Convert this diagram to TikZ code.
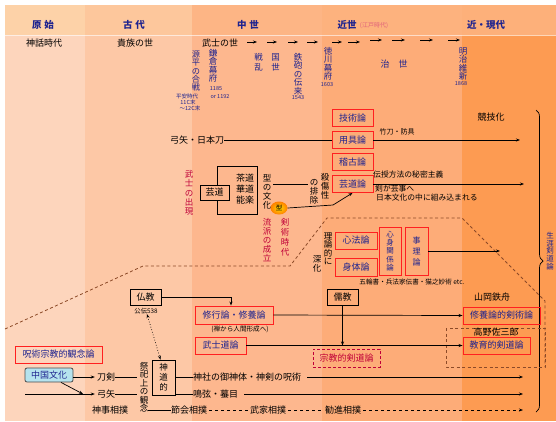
\documentclass[tikz,border=0pt]{standalone}
\usepackage{fontspec}
\newfontfamily\cjk{Noto Sans CJK JP}
\usetikzlibrary{arrows.meta,decorations.pathreplacing,shapes.geometric}
\definecolor{navyc}{HTML}{1E238F}
\definecolor{redc}{HTML}{FF2020}
\definecolor{crim}{HTML}{C00038}
\definecolor{dashc}{HTML}{8C4A28}
\definecolor{pinkc}{HTML}{E0607A}
\definecolor{cyanc}{HTML}{B5E3EE}
\definecolor{cab}{HTML}{FDD5BC}\definecolor{cah}{HTML}{FDD2A8}
\definecolor{cbb}{HTML}{FDC8A6}\definecolor{cbh}{HTML}{FDC79C}
\definecolor{ccb}{HTML}{FDB78E}\definecolor{cch}{HTML}{FDB585}
\definecolor{cdb}{HTML}{FDAC78}\definecolor{cdh}{HTML}{FDB27E}
\definecolor{ceb}{HTML}{FD9B52}\definecolor{ceh}{HTML}{FDB07A}
\begin{document}
\begin{tikzpicture}[x=1pt,y=-1pt,
  every node/.style={inner sep=0pt, font=\cjk\fontsize{9}{9}\selectfont},
  lbl/.style={text=black},
  nv/.style={text=navyc},
  hdr/.style={text=navyc, font=\cjk\bfseries\fontsize{9.5}{9.5}\selectfont},
  vt/.style={align=center, font=\cjk\fontsize{8.5}{8.5}\selectfont},
  sm/.style={font=\cjk\fontsize{5.5}{5.5}\selectfont},
  rbox/.style={draw=redc, line width=0.9pt, text=navyc},
  bbox/.style={draw=black, line width=0.8pt, text=black},
  arr/.style={-{Stealth[length=4pt,width=3pt]}, line width=0.7pt},
  ln/.style={line width=0.7pt},
  dsh/.style={draw=dashc, dash pattern=on 3pt off 2.5pt, line width=0.8pt},
]
\useasboundingbox (0,0) rectangle (556,421);
\fill[white] (0,0) rectangle (556,421);
% columns
\fill[cab] (5,5) rectangle (85,421);
\fill[cbb] (85,5) rectangle (192,421);
\fill[ccb] (192,5) rectangle (322,421);
\fill[cdb] (322,5) rectangle (462,421);
\fill[ceb] (462,5) rectangle (556,421);
\fill[cah] (5,5) rectangle (85,35);
\fill[cbh] (85,5) rectangle (192,35);
\fill[cch] (192,5) rectangle (322,35);
\fill[cdh] (322,5) rectangle (462,35);
\fill[ceh] (462,5) rectangle (556,35);
\draw[white, opacity=0.6, line width=1pt] (5,35.5) -- (556,35.5);

% header
\node[hdr] (h1) at (43,25) {原\hspace{3pt}始};
\node[hdr] (h2) at (134,25) {古\hspace{3pt}代};
\node[hdr] (h3) at (248,25) {中\hspace{3pt}世};
\node[hdr] (h4) at (347,25) {近世};
\node[text=pinkc, font=\cjk\fontsize{6}{6}\selectfont] (h4s) at (374,26) {(江戸時代)};
\node[hdr] (h5) at (486,25) {近・現代};

% row 2
\node[lbl] (r1) at (44,43) {神話時代};
\node[lbl] (r2) at (135,43) {貴族の世};
\node[lbl] (r3) at (220,43) {武士の世};
\foreach \a/\b/\y in {247/257/42, 267/277/42, 288/298/42, 307/318/42, 332/342/42, 348/360/42, 370/382/40, 392/405/40, 420/433/40, 448/460/40}
  \draw[arr] (\a,\y) -- (\b,\y);

% era events
\node[vt,nv, font=\cjk\fontsize{8.2}{8.2}\selectfont] (genpei) at (196,71) {源\\平\\の\\合\\戦};
\node[sm,nv] (heian) at (187,96) {平安時代};
\node[sm,nv] (c11) at (188,102) {11C末};
\node[sm,nv] (c12) at (190,108) {～12C末};
\node[vt,nv] (kama) at (213,66) {鎌\\倉\\幕\\府};
\node[sm,nv] (y1185) at (216,89) {1185};
\node[sm,nv] (y1192) at (220,97) {or 1192};
\node[nv, align=center, font=\cjk\fontsize{8.5}{10}\selectfont] (sengoku) at (267,62) {戦　国\\乱　世};
\node[vt,nv] (teppo) at (298,74) {鉄\\砲\\の\\伝\\来};
\node[sm,nv] (y1543) at (298,98) {1543};
\node[vt,nv] (toku) at (328,64) {徳\\川\\幕\\府};
\node[sm,nv] (y1603) at (327,85) {1603};
\node[nv] (chisei) at (394,64) {治　世};
\node[vt,nv] (meiji) at (463,64) {明\\治\\維\\新};
\node[sm,nv] (y1868) at (461,84) {1868};

% upper red boxes
\node[rbox, minimum width=41pt, minimum height=17pt] (gijutsu) at (352.5,118) {技術論};
\node[rbox, minimum width=41pt, minimum height=17pt] (yougu) at (352.5,140) {用具論};
\node[rbox, minimum width=41pt, minimum height=17pt] (keiko) at (352.5,162) {稽古論};
\node[rbox, minimum width=41pt, minimum height=17pt] (geidouron) at (352.5,184) {芸道論};

\node[lbl] (yumito) at (197,140) {弓矢・日本刀};
\draw[ln] (yumito.east) -- (yougu.west);
\coordinate (e1) at (520,140);
\draw[arr] (yougu.east) -- (e1);
\node[lbl, font=\cjk\fontsize{7}{7}\selectfont] (shinai) at (397,132) {竹刀・防具};
\node[lbl] (kyogi) at (491,117) {競技化};

\coordinate (e2) at (524,184);
\draw[arr] (geidouron.east) -- (e2);
\node[lbl, anchor=west, font=\cjk\fontsize{7.8}{7.8}\selectfont] (denju) at (373,175) {伝授方法の秘密主義};
\node[lbl, anchor=west, font=\cjk\fontsize{7.8}{7.8}\selectfont] (geigoto) at (375,189) {剣が芸事へ};
\node[lbl, anchor=west, font=\cjk\fontsize{7.8}{7.8}\selectfont] (nihon) at (376,198) {日本文化の中に組み込まれる};

% brace
\draw[decorate, decoration={brace, amplitude=7pt}, line width=0.7pt] (536,110) -- (536,412);
\node[vt, nv, font=\cjk\fontsize{7.5}{7.8}\selectfont] (shogai) at (550,251) {生\\涯\\剣\\道\\論};

% geido block
\node[bbox, minimum width=29pt, minimum height=15pt] (geido) at (214.5,192.5) {芸道};
\draw[ln] (geido.north -| 217,0) -- (217,166) -- (257,166) -- (257,214) -- (217,214) -- (geido.south -| 217,0);
\node[lbl] (sado) at (245,178) {茶道};
\node[lbl] (kado) at (245,189) {華道};
\node[lbl] (nogaku) at (245,200) {能楽};

\node[vt,lbl, font=\cjk\fontsize{8.5}{9}\selectfont] (katabunka) at (267,192) {型\\の\\文\\化};
\node[vt,lbl, font=\cjk\fontsize{8.5}{9}\selectfont] (sessho) at (325,186) {殺\\傷\\性};
\node[vt,lbl, font=\cjk\fontsize{8.5}{9}\selectfont] (nohaijo) at (314,192) {の\\排\\除};
\coordinate (k1) at (273,184);
\coordinate (k2) at (308,184);
\draw[ln] (k1) -- (k2);
\node[ellipse, minimum width=17pt, minimum height=13pt, inner color=yellow!70!orange, outer color=orange, font=\cjk\fontsize{6.5}{6.5}\selectfont] (kata) at (279,208) {型};
\coordinate (bend) at (333,205);
\draw[arr] (kata.east) -- (bend) -- (geidouron.south);

\node[vt, text=crim, font=\cjk\fontsize{8.5}{9.4}\selectfont] (bushi) at (189,193) {武\\士\\の\\出\\現};
\node[vt, text=crim, font=\cjk\fontsize{8.5}{9.2}\selectfont] (ryuha) at (267,240) {流\\派\\の\\成\\立};
\node[vt, text=crim, font=\cjk\fontsize{8.5}{10}\selectfont] (kenjutsu) at (285,237) {剣\\術\\時\\代};

% dashed region
\draw[dsh] (5,329) -- (143,266) -- (290,266) -- (327,218) -- (462,218) -- (545,301) -- (545,367);
\draw[dsh] (446,328) rectangle (545,367);

\node[vt,lbl, font=\cjk\fontsize{8.5}{8.5}\selectfont] (riron) at (328,249) {理\\論\\的\\に};
\node[vt,lbl, font=\cjk\fontsize{8.5}{8.5}\selectfont] (shinka) at (317,264) {深\\化};

\node[rbox, minimum width=42pt, minimum height=17pt] (shinpo) at (356,240.5) {心法論};
\node[rbox, minimum width=42pt, minimum height=18pt] (shintai) at (356,267) {身体論};
\node[rbox, minimum width=22pt, minimum height=48pt, align=center, font=\cjk\fontsize{7.5}{8.3}\selectfont] (shinshin) at (390,251) {心\\身\\関\\係\\論};
\node[rbox, minimum width=23pt, minimum height=48pt, align=center, font=\cjk\fontsize{8}{11}\selectfont] (jiri) at (416.5,251) {事\\理\\論};
\coordinate (e3) at (500,251);
\draw[arr] (jiri.east) -- (e3);
\node[lbl, font=\cjk\fontsize{6.6}{6.6}\selectfont] (gorin) at (412,282) {五輪書・兵法家伝書・猫之妙術 etc.};

% lower part
\node[bbox, minimum width=31pt, minimum height=16pt] (bukkyo) at (145.5,297) {仏教};
\node[lbl, font=\cjk\fontsize{6.3}{6.3}\selectfont] (kouden) at (146,311) {公伝538};
\node[rbox, minimum width=78pt, minimum height=18pt] (shugyo) at (234,315) {修行論・修養論};
\node[lbl, font=\cjk\fontsize{6.6}{6.6}\selectfont] (zen) at (240,329) {(禅から人間形成へ)};
\node[rbox, minimum width=51pt, minimum height=17pt] (bushido) at (220.5,345.5) {武士道論};
\node[bbox, minimum width=31pt, minimum height=16pt] (jukyo) at (342.5,297) {儒教};
\node[rbox, minimum width=77pt, minimum height=17pt] (shuyoken) at (501.5,315.5) {修養論的剣術論};
\node[rbox, minimum width=67pt, minimum height=17pt] (kyoiku) at (496.5,345.5) {教育的剣道論};
\node[draw=crim, dash pattern=on 3pt off 2pt, line width=0.8pt, text=crim, minimum width=67pt, minimum height=18pt] (shukyo) at (346.5,358) {宗教的剣道論};
\node[lbl] (yamaoka) at (492,297) {山岡鉄舟};
\node[lbl] (takano) at (496,332) {高野佐三郎};

\draw[arr] (bukkyo.east) -| ([xshift=-3pt]shugyo.north);
\draw[arr] (shugyo.east) -- (shuyoken.west);
\draw[arr] (bushido.east) -- (kyoiku.west);
\draw[arr] (jukyo.south) -- (jukyo.south |- bushido.east);

\node[rbox, minimum width=87pt, minimum height=17pt] (jujutsu) at (58.5,354.5) {呪術宗教的観念論};
\node[draw=black!70, fill=cyanc, rounded corners=2pt, line width=0.8pt, minimum width=48pt, minimum height=14pt, text=navyc] (chugoku) at (49,375) {中国文化};
\node[lbl] (touken) at (106,377) {刀剣};
\node[lbl] (yumi2) at (106,394) {弓矢};
\draw[arr] (chugoku.east |- touken.west) -- ([xshift=-2pt]touken.west);
\coordinate (yl) at (25,394);
\draw[arr] (yl) -- ([xshift=-2pt]yumi2.west);
\coordinate (ym) at (83,394);
\draw[arr] ([xshift=12pt]chugoku.south) -- (ym);

\node[vt,lbl] (saishi) at (144,387) {祭\\祀\\上\\の\\観\\念};
\draw[ln] (touken.east) -- ([xshift=-3pt]saishi.west |- touken.east);
\draw[ln] (yumi2.east) -- ([xshift=-3pt]saishi.west |- yumi2.east);
\node[bbox, minimum width=23pt, minimum height=35pt, align=center, font=\cjk\fontsize{8.5}{10}\selectfont] (shinto) at (163.5,377.5) {神\\道\\的};
\draw[arr, dotted, {Stealth[length=4pt,width=3pt]}-{Stealth[length=4pt,width=3pt]}] ([xshift=1pt]kouden.south) -- ([xshift=-3pt]shinto.north);

\node[lbl, anchor=west] (jinja) at (193,377) {神社の御神体・神剣の呪術};
\node[lbl, anchor=west] (meigen) at (193,394) {鳴弦・蟇目};
\draw[ln] (shinto.east |- jinja.west) -- (jinja.west);
\draw[ln] (shinto.east |- meigen.west) -- (meigen.west);
\coordinate (e4) at (523,377);
\coordinate (e5) at (523,394);
\draw[arr] ([xshift=6pt]jinja.east) -- (e4);
\draw[arr] ([xshift=6pt]meigen.east) -- (e5);

\node[lbl] (shinji) at (110,410) {神事相撲};
\node[lbl] (sechie) at (189,410) {節会相撲};
\node[lbl] (buke) at (268,410) {武家相撲};
\node[lbl] (kanjin) at (343,410) {勧進相撲};
\draw[ln] (saishi.east |- sechie.west) -- (sechie.west);
\draw[ln, dashed] ([xshift=2pt]sechie.east) -- ([xshift=-2pt]buke.west);
\draw[ln, dashed] ([xshift=2pt]buke.east) -- ([xshift=-2pt]kanjin.west);
\coordinate (e6) at (523,410);
\draw[arr, dashed] ([xshift=2pt]kanjin.east) -- (e6);
\end{tikzpicture}
\end{document}
